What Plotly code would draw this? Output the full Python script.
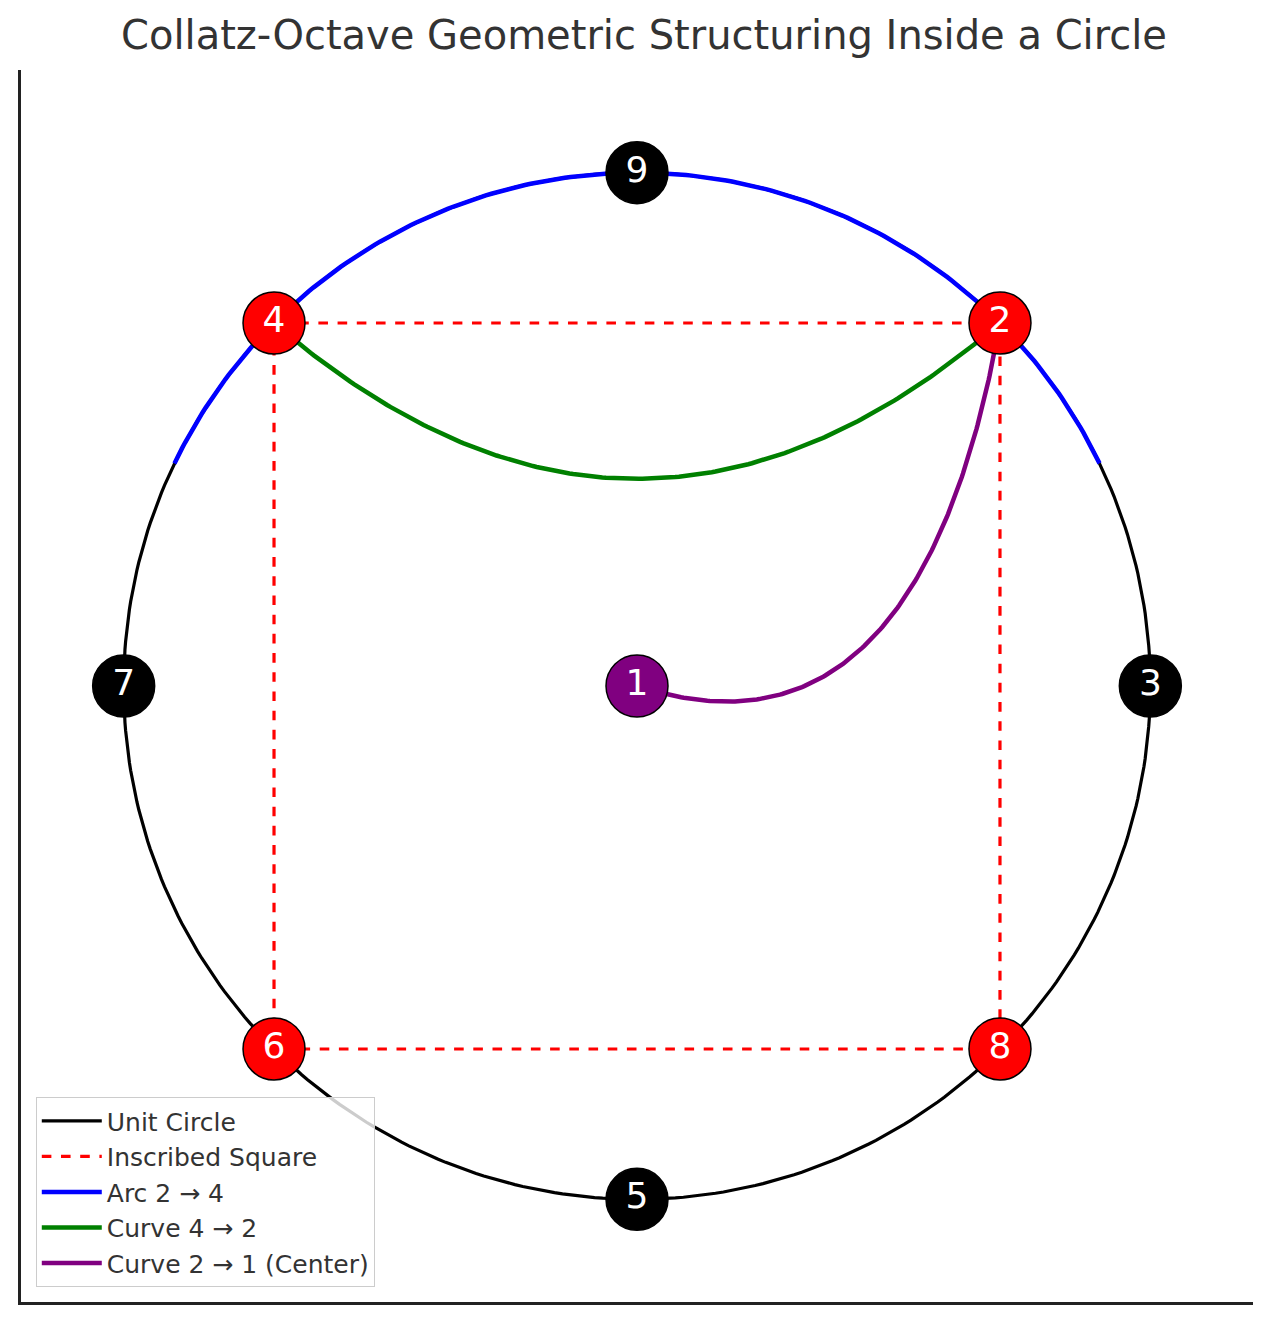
import numpy as np
import plotly.graph_objects as go

labels = ["9", "2", "3", "8", "5", "6", "7", "4"]
angles_deg = [90, 45, 0, 315, 270, 225, 180, 135]
node_colors = ["black", "red", "black", "red", "black", "red", "black", "red"]
arc_range_deg = [25.7, 154.3]
green_ctrl = [0.0, 0.1]
purple_ctrl = [0.55, -0.18]

def bez(p0, p1, p2, n=200):
    t = np.linspace(0, 1, n)[:, None]
    p0, p1, p2 = map(np.array, (p0, p1, p2))
    pts = (1 - t) ** 2 * p0 + 2 * t * (1 - t) * p1 + t ** 2 * p2
    return pts[:, 0], pts[:, 1]

pos = {l: (np.cos(np.radians(a)), np.sin(np.radians(a))) for l, a in zip(labels, angles_deg)}

fig = go.Figure()
th = np.linspace(0, 2 * np.pi, 400)
fig.add_trace(go.Scatter(x=np.cos(th), y=np.sin(th), mode="lines", line=dict(color="black", width=3.2), name="Unit Circle"))
sq = ["2", "4", "6", "8", "2"]
fig.add_trace(go.Scatter(x=[pos[s][0] for s in sq], y=[pos[s][1] for s in sq], mode="lines",
                         line=dict(color="red", width=3.2, dash="dash"), name="Inscribed Square"))
ta = np.radians(np.linspace(arc_range_deg[0], arc_range_deg[1], 200))
fig.add_trace(go.Scatter(x=np.cos(ta), y=np.sin(ta), mode="lines", line=dict(color="blue", width=4.5), name="Arc 2 → 4"))
gx, gy = bez(pos["4"], green_ctrl, pos["2"])
fig.add_trace(go.Scatter(x=gx, y=gy, mode="lines", line=dict(color="green", width=4.5), name="Curve 4 → 2"))
px_, py_ = bez(pos["2"], purple_ctrl, (0, 0))
fig.add_trace(go.Scatter(x=px_, y=py_, mode="lines", line=dict(color="purple", width=4.5), name="Curve 2 → 1 (Center)"))

fig.add_trace(go.Scatter(x=[pos[l][0] for l in labels] + [0], y=[pos[l][1] for l in labels] + [0],
                         mode="markers+text", text=labels + ["1"],
                         marker=dict(size=62, color=node_colors + ["purple"], line=dict(color="black", width=1.5)),
                         textfont=dict(color="white", size=36, family="DejaVu Sans"), textposition="middle center",
                         showlegend=False, hoverinfo="skip"))

fig.update_layout(
    width=1272, height=1322, margin=dict(l=13, r=27, t=62, b=28),
    plot_bgcolor="white", paper_bgcolor="white",
    title=dict(text="Collatz-Octave Geometric Structuring Inside a Circle", x=0.5, y=0.99, yanchor="top",
               font=dict(size=40, color="#333333", family="DejaVu Sans")),
    xaxis=dict(range=[-1.2, 1.2], showgrid=False, zeroline=False, showticklabels=False, ticks="",
               showline=True, linecolor="#222", linewidth=2.5),
    yaxis=dict(range=[-1.2, 1.2], showgrid=False, zeroline=False, showticklabels=False, ticks="",
               showline=True, linecolor="#222", linewidth=2.5),
    legend=dict(x=0.012, y=0.012, xanchor="left", yanchor="bottom", bgcolor="rgba(255,255,255,0.8)",
                bordercolor="#cccccc", borderwidth=1, itemwidth=60, tracegroupgap=4,
                font=dict(size=25, color="#333", family="DejaVu Sans")),
    showlegend=True,
)
fig.write_html("out.html")
